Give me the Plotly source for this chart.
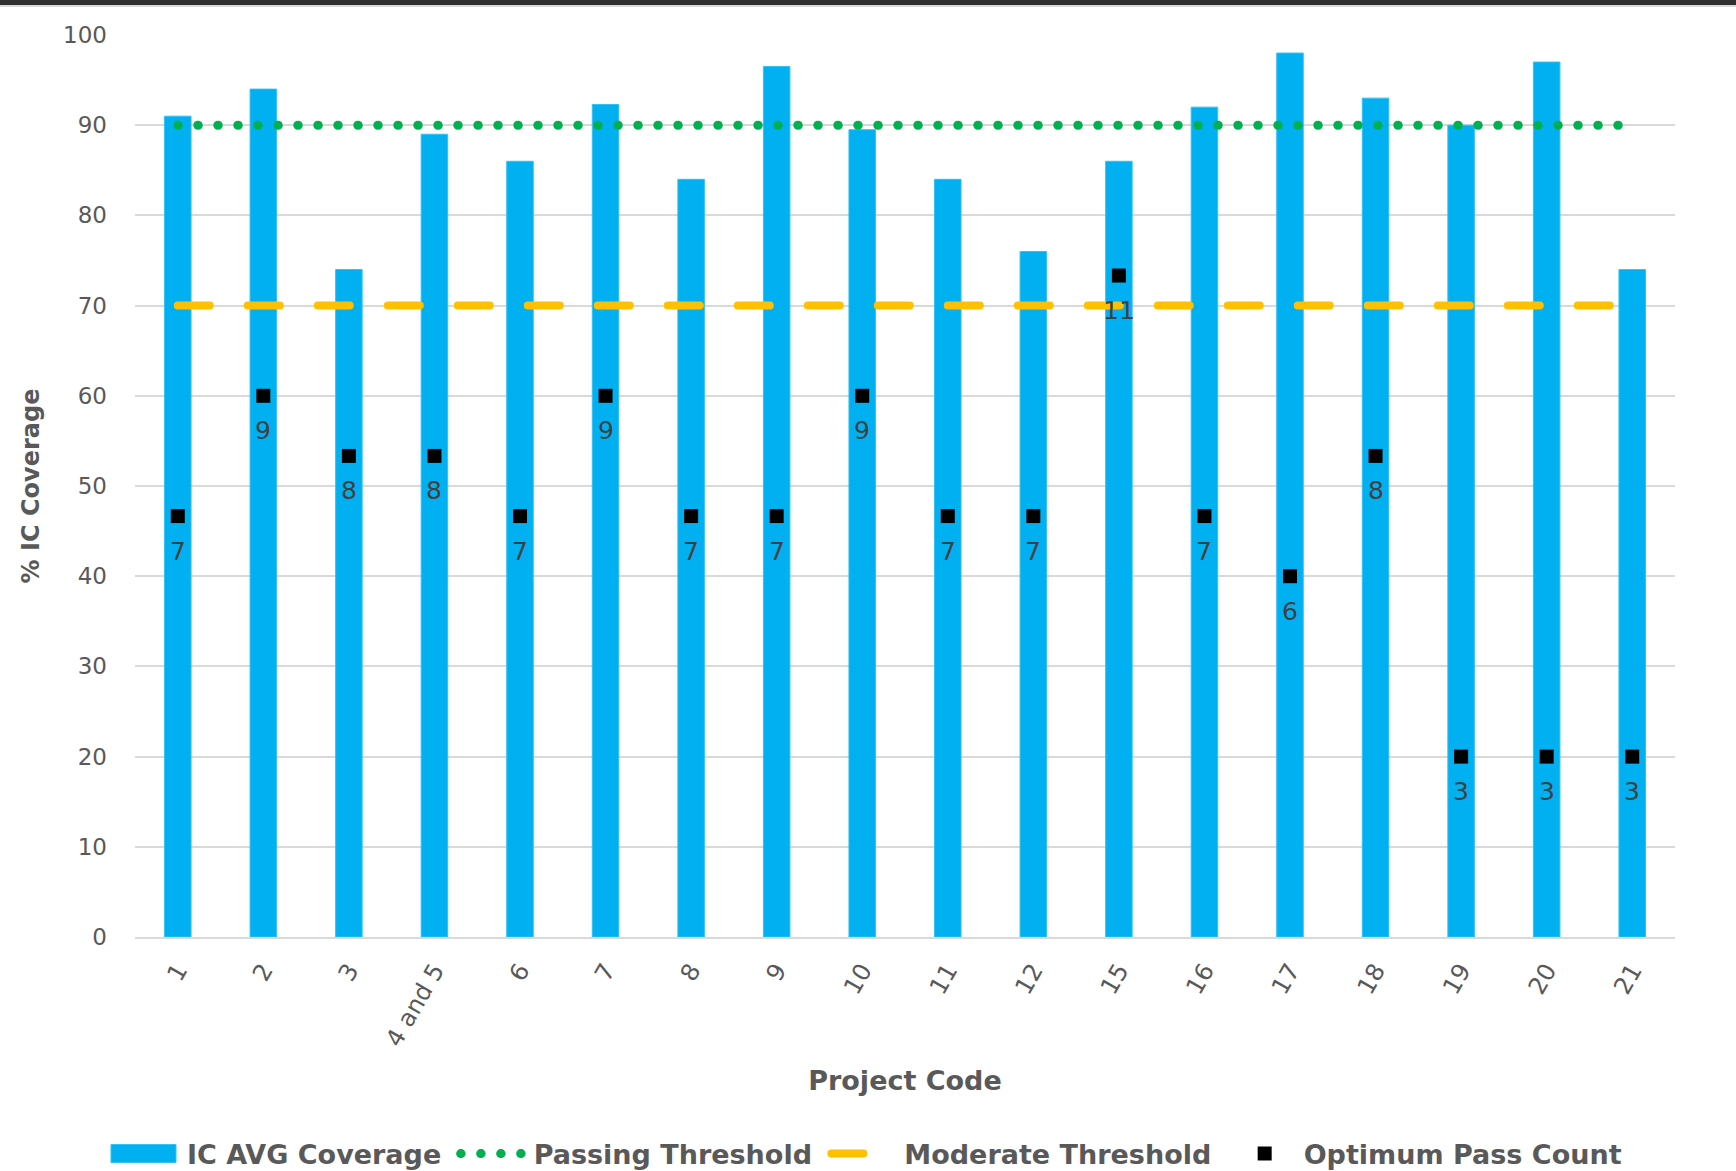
import plotly.graph_objects as go

# Project codes along the category axis
projects = ["1", "2", "3", "4 and 5", "6", "7", "8", "9", "10", "11",
            "12", "15", "16", "17", "18", "19", "20", "21"]

# Average IC coverage per project (%)
ic_avg_coverage = [91, 94, 74, 89, 86, 92.3, 84, 96.5, 89.5, 84,
                   76, 86, 92, 98, 93, 90, 97, 74]

# Optimum pass count per project (plotted on a 0-15 count scale)
optimum_pass_count = [7, 9, 8, 8, 7, 9, 7, 7, 9, 7,
                      7, 11, 7, 6, 8, 3, 3, 3]
pass_count_max = 15

# Threshold levels (%)
passing_threshold = [90] * len(projects)
moderate_threshold = [70] * len(projects)

W, H = 1736, 1171
M_L, M_R, M_T, M_B = 135, 61, 35, 234
PLOT_W = W - M_L - M_R
PLOT_H = H - M_T - M_B

TEXT_GREY = "#595959"
GRID = "#D9D9D9"
SANS = "DejaVu Sans"
PAD = "\u00a0"  # a little extra room between legend entries

fig = go.Figure()

fig.add_trace(go.Bar(
    x=projects, y=ic_avg_coverage, name="IC AVG Coverage" + PAD,
    marker=dict(color="#00B0F0", line=dict(color="#33C0F3", width=1)),
    yaxis="y",
))

fig.add_trace(go.Scatter(
    x=projects, y=passing_threshold, name="Passing Threshold" + PAD,
    mode="lines", line=dict(color="#00B050", width=9, dash="0.5px,19.5px"),
    yaxis="y",
))

fig.add_trace(go.Scatter(
    x=projects, y=moderate_threshold, name="Moderate Threshold" + PAD,
    mode="lines", line=dict(color="#FFC000", width=8, dash="32px,38px"),
    yaxis="y",
))

fig.add_trace(go.Scatter(
    x=projects, y=optimum_pass_count, name="Optimum Pass Count",
    mode="markers", marker=dict(symbol="square", size=14, color="#000000"),
    yaxis="y2",
))

# Count labels under each pass-count marker (category index on x)
for i, c in enumerate(optimum_pass_count):
    fig.add_annotation(
        x=i, y=c, xref="x", yref="y2", text=str(c), showarrow=False,
        yshift=-35, font=dict(family=SANS, size=25, color="#404040"),
    )

# Dark strip and thin rule along the top edge
top = 1 + M_T / PLOT_H
left, right = -M_L / PLOT_W, 1 + M_R / PLOT_W
fig.add_shape(type="rect", xref="paper", yref="paper",
              x0=left, x1=right, y0=top - 5 / PLOT_H, y1=top,
              fillcolor="#2F2F2F", line=dict(width=0), layer="above")
fig.add_shape(type="rect", xref="paper", yref="paper",
              x0=left, x1=right, y0=top - 7 / PLOT_H, y1=top - 5 / PLOT_H,
              fillcolor="#DADADA", line=dict(width=0), layer="above")

fig.update_layout(
    width=W, height=H,
    margin=dict(l=M_L, r=M_R, t=M_T, b=M_B, autoexpand=False),
    paper_bgcolor="white", plot_bgcolor="white",
    bargap=0.69,
    showlegend=True,
    legend=dict(
        orientation="h", xref="container", yref="container",
        x=0.5, xanchor="center", y=0.0145, yanchor="middle",
        font=dict(family=SANS, size=27, color=TEXT_GREY, weight="bold"),
        itemwidth=68, traceorder="normal",
    ),
    xaxis=dict(
        type="category", range=[-0.5, len(projects) - 0.5], tickangle=-60,
        tickfont=dict(family=SANS, size=24, color=TEXT_GREY),
        showgrid=False, showline=True, linecolor=GRID, linewidth=2,
        ticks="", ticklabelstandoff=8,
        title=dict(text="Project Code", standoff=21,
                   font=dict(family=SANS, size=27, color=TEXT_GREY, weight="bold")),
        automargin=False,
    ),
    yaxis=dict(
        range=[0, 100], dtick=10, tick0=0,
        tickfont=dict(family=SANS, size=23, color=TEXT_GREY),
        showgrid=True, gridcolor=GRID, gridwidth=2,
        zeroline=False, showline=False, ticks="", ticklabelstandoff=27,
        title=dict(text="% IC Coverage", standoff=16,
                   font=dict(family=SANS, size=24, color=TEXT_GREY, weight="bold")),
        automargin=False,
    ),
    yaxis2=dict(range=[0, pass_count_max], overlaying="y", visible=False),
)

# Round line caps for the dotted/dashed thresholds and a wide legend swatch for the bars
post = """
var gd = document.querySelector('.plotly-graph-div');
var BAR_SWATCH = 'M28,9H-37V-9H28Z';
function styleChart() {
  document.querySelectorAll('path.js-line').forEach(function (p) {
    if (p.style.strokeLinecap !== 'round') { p.style.strokeLinecap = 'round'; }
  });
  document.querySelectorAll('.legend .legendpoints path').forEach(function (p) {
    var d = p.getAttribute('d') || '';
    if (d.indexOf('M6,6H-6V-6H6Z') === 0) { p.setAttribute('d', BAR_SWATCH); }
  });
}
styleChart();
if (gd) {
  if (gd.on) { gd.on('plotly_afterplot', styleChart); }
  new MutationObserver(styleChart).observe(gd, {subtree: true, childList: true});
}
"""

fig.write_html("out.html", post_script=post)
